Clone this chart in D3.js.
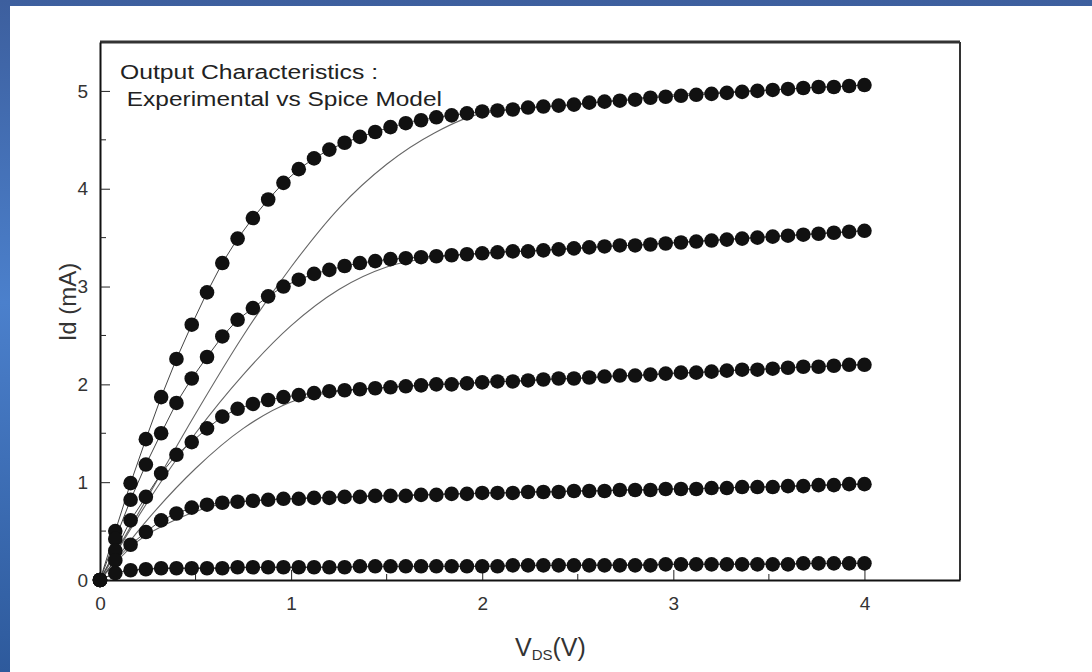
<!DOCTYPE html>
<html>
<head>
<meta charset="utf-8">
<script src="https://cdn.jsdelivr.net/npm/d3@7"></script>
<style>
  html, body { margin: 0; padding: 0; background: #fff; }
  svg { display: block; font-family: 'Liberation Sans', Arial, sans-serif; }
</style>
</head>
<body>
<svg id="chart" width="1092" height="672"></svg>
<script>
//

const vds = [
  0, 0.08, 0.16, 0.24, 0.32, 0.40, 0.48, 0.56, 0.64, 0.72,
  0.80, 0.88, 0.96, 1.04, 1.12, 1.20, 1.28, 1.36, 1.44, 1.52,
  1.60, 1.68, 1.76, 1.84, 1.92, 2.00, 2.08, 2.16, 2.24, 2.32,
  2.40, 2.48, 2.56, 2.64, 2.72, 2.80, 2.88, 2.96, 3.04, 3.12,
  3.20, 3.28, 3.36, 3.44, 3.52, 3.60, 3.68, 3.76, 3.84, 3.92, 4.00
]

// measured Id (mA), one array per gate bias
const idExp1 = [
  0, 0.50, 0.99, 1.44, 1.87, 2.26, 2.61, 2.94, 3.24, 3.49,
  3.70, 3.89, 4.06, 4.20, 4.31, 4.40, 4.47, 4.53, 4.58, 4.63,
  4.67, 4.70, 4.73, 4.75, 4.77, 4.79, 4.80, 4.81, 4.83, 4.84,
  4.85, 4.86, 4.88, 4.89, 4.90, 4.91, 4.93, 4.94, 4.95, 4.96,
  4.97, 4.98, 4.99, 5.00, 5.01, 5.02, 5.03, 5.04, 5.04, 5.05, 5.06
]
const idExp2 = [
  0, 0.42, 0.82, 1.18, 1.50, 1.81, 2.06, 2.28, 2.49, 2.66,
  2.78, 2.90, 3.00, 3.07, 3.13, 3.17, 3.21, 3.24, 3.26, 3.28,
  3.29, 3.30, 3.31, 3.32, 3.33, 3.34, 3.35, 3.36, 3.36, 3.37,
  3.38, 3.39, 3.40, 3.41, 3.42, 3.42, 3.43, 3.44, 3.45, 3.46,
  3.47, 3.48, 3.49, 3.50, 3.51, 3.52, 3.53, 3.54, 3.55, 3.56, 3.57
]
const idExp3 = [
  0, 0.30, 0.61, 0.85, 1.09, 1.28, 1.41, 1.55, 1.67, 1.75,
  1.80, 1.84, 1.87, 1.89, 1.91, 1.93, 1.94, 1.95, 1.96, 1.97,
  1.98, 1.99, 2.00, 2.00, 2.01, 2.02, 2.03, 2.03, 2.04, 2.05,
  2.06, 2.06, 2.07, 2.08, 2.09, 2.09, 2.10, 2.11, 2.12, 2.12,
  2.13, 2.14, 2.15, 2.15, 2.16, 2.17, 2.18, 2.18, 2.19, 2.20, 2.20
]
const idExp4 = [
  0, 0.20, 0.36, 0.49, 0.61, 0.68, 0.74, 0.77, 0.79, 0.80,
  0.81, 0.82, 0.83, 0.83, 0.84, 0.84, 0.85, 0.85, 0.86, 0.86,
  0.86, 0.87, 0.87, 0.88, 0.88, 0.89, 0.89, 0.89, 0.90, 0.90,
  0.90, 0.91, 0.91, 0.91, 0.92, 0.92, 0.92, 0.93, 0.93, 0.93,
  0.94, 0.94, 0.95, 0.95, 0.95, 0.96, 0.96, 0.97, 0.97, 0.98, 0.98
]
const idExp5 = [
  0, 0.07, 0.10, 0.11, 0.12, 0.12, 0.12, 0.12, 0.12, 0.13,
  0.13, 0.13, 0.13, 0.13, 0.13, 0.13, 0.13, 0.14, 0.14, 0.14,
  0.14, 0.14, 0.14, 0.14, 0.14, 0.14, 0.14, 0.15, 0.15, 0.15,
  0.15, 0.15, 0.15, 0.15, 0.15, 0.15, 0.15, 0.16, 0.16, 0.16,
  0.16, 0.16, 0.16, 0.16, 0.16, 0.16, 0.17, 0.17, 0.17, 0.17, 0.17
]

// spice model curves, [Vds, Id]
const model1 = [[0, 0], [0.25, 0.85], [0.5, 1.7], [0.75, 2.5], [1.0, 3.2], [1.25, 3.8], [1.5, 4.25], [1.75, 4.57], [2.0, 4.77], [2.5, 4.86], [3.0, 4.96], [3.5, 5.01], [4.0, 5.06]]
const model2 = [[0, 0], [0.25, 0.8], [0.5, 1.5], [0.75, 2.1], [1.0, 2.6], [1.25, 2.97], [1.5, 3.2], [1.75, 3.3], [2.0, 3.34], [2.5, 3.39], [3.0, 3.45], [3.5, 3.51], [4.0, 3.57]]
const model3 = [[0, 0], [0.25, 0.62], [0.5, 1.14], [0.75, 1.55], [1.0, 1.82], [1.25, 1.93], [1.5, 1.97], [2.0, 2.02], [2.5, 2.06], [3.0, 2.11], [3.5, 2.16], [4.0, 2.20]]
const model4 = [[0, 0], [0.2, 0.4], [0.4, 0.62], [0.6, 0.76], [0.8, 0.81], [1.0, 0.83], [2.0, 0.89], [3.0, 0.93], [4.0, 0.98]]
const model5 = [[0, 0], [0.1, 0.08], [0.3, 0.12], [1.0, 0.13], [2.0, 0.14], [3.0, 0.16], [4.0, 0.17]]

const xTicks = [0, 1, 2, 3, 4]
const yTicks = [0, 1, 2, 3, 4, 5]
const xMinor = [0.5, 1.5, 2.5, 3.5, 4.5]
const yMinor = [0.5, 1.5, 2.5, 3.5, 4.5]

const titleLines = ['Output Characteristics :', ' Experimental vs Spice Model']

//

const svg = d3.select('#chart')

const defs = svg.append('defs')
const grad = defs.append('linearGradient')
  .attr('id', 'slideBlue')
  .attr('x1', 0).attr('y1', 0).attr('x2', 0).attr('y2', 1)
grad.append('stop').attr('offset', '0%').attr('stop-color', '#3d5f9e')
grad.append('stop').attr('offset', '45%').attr('stop-color', '#4b80cc')
grad.append('stop').attr('offset', '100%').attr('stop-color', '#2e5a9c')

svg.append('rect')
  .attr('width', 1092).attr('height', 672)
  .attr('fill', 'url(#slideBlue)')
svg.append('rect')
  .attr('x', 10).attr('y', 6)
  .attr('width', 1082).attr('height', 666)
  .attr('fill', '#ffffff')

const margin = { left: 100, top: 42, right: 960, bottom: 580 }

const x = d3.scaleLinear()
  .domain([0, 4.5])
  .range([margin.left, margin.right])

const y = d3.scaleLinear()
  .domain([0, 5.5])
  .range([margin.bottom, margin.top])

// frame
svg.append('line')
  .attr('x1', margin.left).attr('x2', margin.right)
  .attr('y1', margin.top).attr('y2', margin.top)
  .attr('stroke', '#333').attr('stroke-width', 3)
svg.append('line')
  .attr('x1', margin.right).attr('x2', margin.right)
  .attr('y1', margin.top).attr('y2', margin.bottom)
  .attr('stroke', '#333').attr('stroke-width', 2)

// axes
const xAxis = d3.axisBottom(x)
  .tickValues(xTicks)
  .tickFormat(d3.format('d'))
  .tickSizeInner(-10)
  .tickSizeOuter(0)
  .tickPadding(17)

const yAxis = d3.axisLeft(y)
  .tickValues(yTicks)
  .tickFormat(d3.format('d'))
  .tickSizeInner(-10)
  .tickSizeOuter(0)
  .tickPadding(12)

const gx = svg.append('g')
  .attr('transform', `translate(0, ${margin.bottom})`)
  .call(xAxis)
const gy = svg.append('g')
  .attr('transform', `translate(${margin.left}, 0)`)
  .call(yAxis)

gx.append('g').selectAll('line').data(xMinor).join('line')
  .attr('x1', (d) => x(d)).attr('x2', (d) => x(d))
  .attr('y1', 0).attr('y2', -6)
  .attr('stroke', '#222')
gy.append('g').selectAll('line').data(yMinor).join('line')
  .attr('y1', (d) => y(d)).attr('y2', (d) => y(d))
  .attr('x1', 0).attr('x2', 6)
  .attr('stroke', '#222')

for (const g of [gx, gy]) {
  g.select('.domain').attr('stroke', '#111').attr('stroke-width', 2)
  g.selectAll('.tick line').attr('stroke', '#222')
  g.selectAll('.tick text')
    .attr('font-size', 19)
    .attr('fill', '#333')
    .attr('font-family', "'Liberation Sans', Arial, sans-serif")
}

// model lines
const modelLine = d3.line()
  .x((d) => x(d[0]))
  .y((d) => y(d[1]))
  .curve(d3.curveMonotoneX)

svg.append('g')
  .selectAll('path')
  .data([model1, model2, model3, model4, model5])
  .join('path')
  .attr('d', modelLine)
  .attr('fill', 'none')
  .attr('stroke', '#666')
  .attr('stroke-width', 1.1)

// experimental points
const expSeries = [idExp1, idExp2, idExp3, idExp4, idExp5]
  .map((ids) => ids.map((v, i) => [vds[i], v]))

const expLine = d3.line()
  .x((d) => x(d[0]))
  .y((d) => y(d[1]))

const gExp = svg.append('g')
gExp.selectAll('path')
  .data(expSeries)
  .join('path')
  .attr('d', expLine)
  .attr('fill', 'none')
  .attr('stroke', '#444')
  .attr('stroke-width', 1)

gExp.selectAll('g.series')
  .data(expSeries)
  .join('g')
  .attr('class', 'series')
  .selectAll('circle')
  .data((d) => d)
  .join('circle')
  .attr('cx', (d) => x(d[0]))
  .attr('cy', (d) => y(d[1]))
  .attr('r', 7.3)
  .attr('fill', '#111')

// texts
const titleWidths = [258, 322]
svg.append('g')
  .selectAll('text')
  .data(titleLines)
  .join('text')
  .attr('x', 120)
  .attr('y', (d, i) => 79 + i * 27)
  .attr('font-size', 20)
  .attr('fill', '#222')
  .attr('xml:space', 'preserve')
  .attr('textLength', (d, i) => titleWidths[i])
  .attr('lengthAdjust', 'spacingAndGlyphs')
  .text((d) => d)

svg.append('text')
  .attr('transform', 'translate(76, 302) rotate(-90)')
  .attr('text-anchor', 'middle')
  .attr('font-size', 24)
  .attr('fill', '#333')
  .text('Id (mA)')

const xt = svg.append('text')
  .attr('x', 515)
  .attr('y', 656)
  .attr('font-size', 25)
  .attr('fill', '#333')
xt.append('tspan').text('V')
xt.append('tspan').attr('font-size', 15).attr('dy', 4).text('DS')
xt.append('tspan').attr('dy', -4).text('(V)')
</script>
</body>
</html>
